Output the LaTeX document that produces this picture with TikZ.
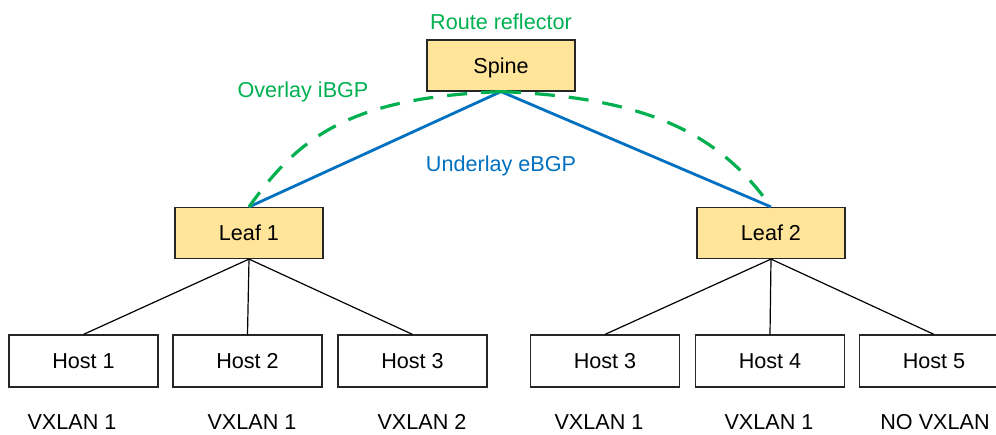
\documentclass[tikz,border=0pt]{standalone}
\usepackage{fontspec}
\setmainfont{Liberation Sans}
\definecolor{boxfill}{HTML}{FFE599}
\definecolor{rrgreen}{HTML}{00B050}
\definecolor{ulblue}{HTML}{0070C0}
\begin{document}
\begin{tikzpicture}[x=0.5pt,y=-0.5pt,
  every node/.style={font=\fontsize{10.8pt}{13pt}\selectfont},
  device/.style={draw=black!85,line width=0.6pt,fill=boxfill,
    minimum width=74pt,minimum height=25.5pt,inner sep=0pt,
    text height=7.7pt,text depth=0pt},
  hostbox/.style={draw=black!85,line width=0.6pt,fill=white,
    minimum width=74.5pt,minimum height=26pt,inner sep=0pt,
    text height=7.7pt,text depth=0pt},
  caption/.style={anchor=base,inner sep=0pt},
  underlay/.style={draw=ulblue,line width=1.4pt},
  overlay/.style={draw=rrgreen,line width=1.6pt,dash pattern=on 10pt off 7pt},
  link/.style={draw=black,line width=0.6pt}]
\clip (0,0) rectangle (996,434);

% switches
\node[device] (spine) at (501,65.5) {Spine};
\node[device] (leaf1) at (249,233) {Leaf 1};
\node[device] (leaf2) at (771,233) {Leaf 2};

% hosts
\node[hostbox] (h1) at (83.5,361) {Host 1};
\node[hostbox] (h2) at (247.5,361) {Host 2};
\node[hostbox] (h3) at (412.5,361) {Host 3};
\node[hostbox] (h3b) at (605,361) {Host 3};
\node[hostbox] (h4) at (770,361) {Host 4};
\node[hostbox] (h5) at (934,361) {Host 5};

% labels
\node[caption,text=rrgreen] (rr) at (501,29.5) {Route reflector};
\node[caption,text=rrgreen] (ov) at (303,97.5) {Overlay iBGP};
\node[caption,text=ulblue] (ul) at (501,171) {Underlay eBGP};
\node[caption] (v1) at (72,429.5) {VXLAN 1};
\node[caption] (v2) at (252,429.5) {VXLAN 1};
\node[caption] (v3) at (422,429.5) {VXLAN 2};
\node[caption] (v4) at (599,429.5) {VXLAN 1};
\node[caption] (v5) at (769,429.5) {VXLAN 1};
\node[caption] (v6) at (935,429.5) {NO VXLAN};

% underlay eBGP sessions
\draw[underlay] (spine.south) -- (leaf1.north);
\draw[underlay] (spine.south) -- (leaf2.north);

% overlay iBGP sessions
\draw[overlay] (spine.south) .. controls +(-149,6) and +(51,-72) .. (leaf1.north);
\draw[overlay] (spine.south) .. controls +(149,6) and +(-51,-72) .. (leaf2.north);

% host links
\draw[link] (leaf1.south) -- (h1.north);
\draw[link] (leaf1.south) -- (h2.north);
\draw[link] (leaf1.south) -- (h3.north);
\draw[link] (leaf2.south) -- (h3b.north);
\draw[link] (leaf2.south) -- (h4.north);
\draw[link] (leaf2.south) -- (h5.north);
\end{tikzpicture}
\end{document}
